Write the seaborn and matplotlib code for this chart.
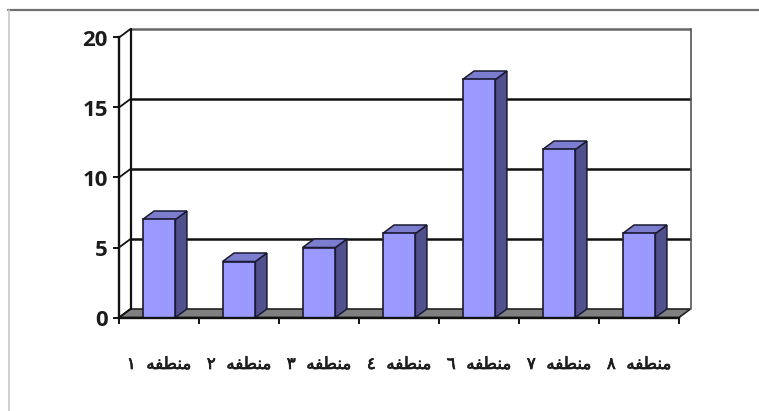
import matplotlib
matplotlib.use('Agg')
import matplotlib.pyplot as plt
import matplotlib.patheffects as pe
from matplotlib.lines import Line2D
from matplotlib.patches import Polygon
import pandas as pd
import seaborn as sns

# Data
regions = ['منطقه ١', 'منطقه ٢', 'منطقه ٣', 'منطقه ٤', 'منطقه ٦', 'منطقه ٧', 'منطقه ٨']
values = [7, 4, 5, 6, 17, 12, 6]
y_ticks = [0, 5, 10, 15, 20]

FRONT = '#9999ff'
SIDE = '#50508c'
TOP = '#7d7dd0'
FLOOR = '#808080'
EDGE = '#1a1a33'

# fake 3d depth, in data units (11.5px and 8.5px)
DX = 11.5 / 80
DY = 8.5 / 14
BAR_W = 0.41


def shape_label(text):
    # matplotlib does no arabic shaping, so use the joined glyphs in visual order
    word, digit = text.split(' ')
    joined = '\ufee3\ufee8\ufec4\ufed4\ufeea'
    return digit + '  ' + joined[::-1]


W, H = 759, 411
sns.set_theme(style='white')
plt.rcParams['font.family'] = ['Open Sans', 'DejaVu Sans']

fig = plt.figure(figsize=(W / 100, H / 100), dpi=100, facecolor='white')
ax = fig.add_axes([119 / W, (H - 317.5) / H, 560 / W, 280 / H])
ax.set_facecolor('none')

df = pd.DataFrame({'region': regions, 'value': values})
sns.barplot(data=df, x='region', y='value', ax=ax, color=FRONT, saturation=1,
            width=BAR_W, edgecolor=EDGE, linewidth=1.2, zorder=3)

n = len(regions)
left, right = -0.5, n - 0.5
ax.set_xlim(left, right)
ax.set_ylim(0, 20)

# floor
ax.add_patch(Polygon([(left, 0), (right, 0), (right + DX, DY), (left + DX, DY)],
                     closed=True, facecolor=FLOOR, edgecolor='#222222', linewidth=1.2,
                     clip_on=False, zorder=1))

# back wall and grid
for t in y_ticks[1:]:
    col = '#666666' if t == 20 else '#111111'
    ax.plot([left + DX, right + DX], [t + DY, t + DY], color=col, lw=1.8,
            clip_on=False, zorder=1.5, solid_capstyle='butt')
    ax.plot([left, left + DX], [t, t + DY], color='#111111', lw=1.3,
            clip_on=False, zorder=1.5)
ax.plot([left + DX, left + DX], [DY, 20 + DY], color='#111111', lw=1.6,
        clip_on=False, zorder=1.5)
ax.plot([right + DX, right + DX], [DY, 20 + DY], color='#555555', lw=1.2,
        clip_on=False, zorder=1.5)
ax.plot([left, left + DX], [0, DY], color='#111111', lw=1.3, clip_on=False, zorder=1.5)

# bar sides and tops
for i, v in enumerate(values):
    x0, x1 = i - BAR_W / 2, i + BAR_W / 2
    ax.add_patch(Polygon([(x1, 0), (x1 + DX, DY), (x1 + DX, v + DY), (x1, v)], closed=True,
                         facecolor=SIDE, edgecolor=EDGE, linewidth=1.1,
                         clip_on=False, zorder=2.5))
    ax.add_patch(Polygon([(x0, v), (x1, v), (x1 + DX, v + DY), (x0 + DX, v + DY)], closed=True,
                         facecolor=TOP, edgecolor=EDGE, linewidth=1.1,
                         clip_on=False, zorder=2.5))

# axes
sns.despine(ax=ax, top=True, right=True)
for s in ['left', 'bottom']:
    ax.spines[s].set_linewidth(1.7)
    ax.spines[s].set_color('#111111')
    ax.spines[s].set_zorder(4)

ax.set_xlabel('')
ax.set_ylabel('')
ax.set_yticks(y_ticks)
ax.set_yticklabels([str(t) for t in y_ticks], fontsize=16, fontweight='bold', color='#1c1c1c')
ax.tick_params(axis='y', length=4.5, width=1.4, color='#111111', pad=3.5, left=True)

# ticks on the category borders, labels in the middle
ax.set_xticks([i - 0.5 for i in range(n + 1)])
ax.set_xticklabels([])
ax.tick_params(axis='x', which='major', length=4.5, width=1.4, color='#111111', bottom=True)
ax.set_xticks(range(n), minor=True)
ax.set_xticklabels([shape_label(r) for r in regions], minor=True, fontsize=12,
                   fontfamily='DejaVu Sans', color='#1c1c1c',
                   path_effects=[pe.withStroke(linewidth=0.5, foreground='#1c1c1c')])
ax.tick_params(axis='x', which='minor', length=0, pad=27)

# window frame of the screenshot
fig.add_artist(Line2D([8 / W, 1], [1 - 10 / H, 1 - 10 / H], color='#707070', lw=1.6))
fig.add_artist(Line2D([9 / W, 9 / W], [0, 1 - 10 / H], color='#c8c8c8', lw=1.2))

fig.savefig('out.png', dpi=100)
